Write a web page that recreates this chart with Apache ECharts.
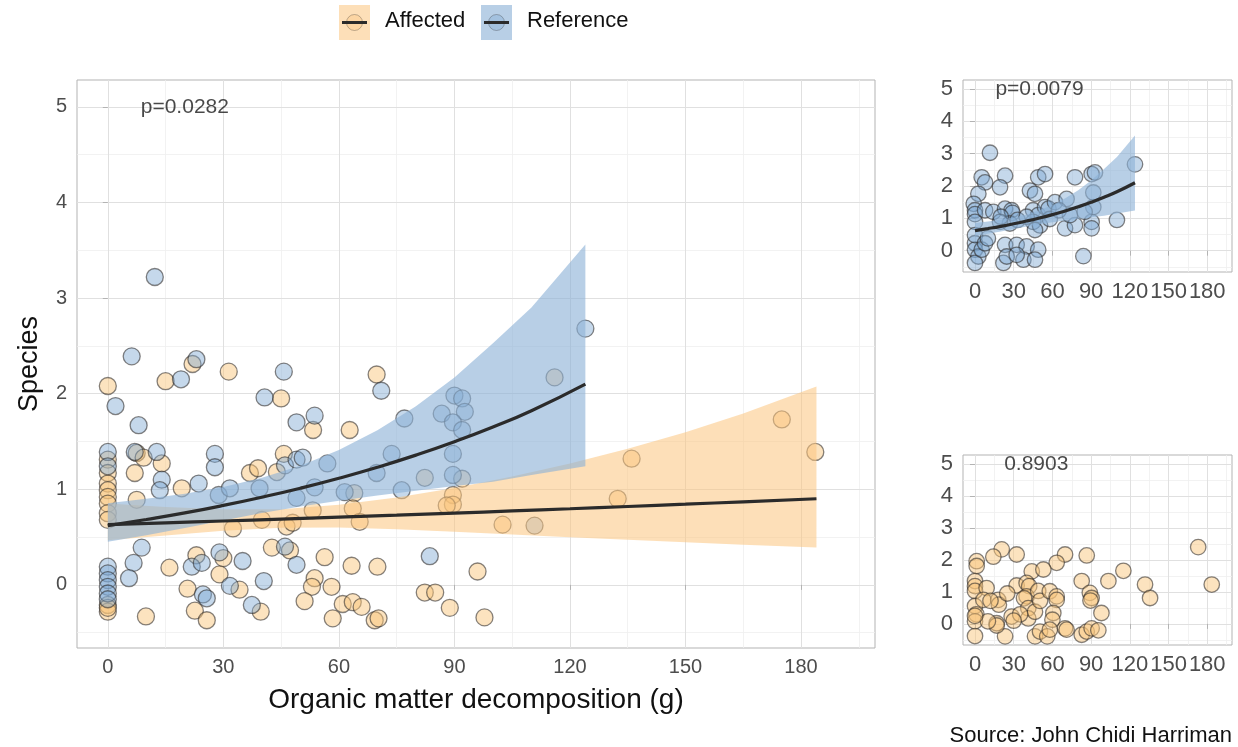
<!DOCTYPE html>
<html>
<head>
<meta charset="utf-8">
<script src="https://cdn.jsdelivr.net/npm/echarts@6/dist/echarts.min.js"></script>
<style>
  html, body { margin: 0; padding: 0; background: #ffffff; }
  #chart { width: 1238px; height: 747px; }
</style>
</head>
<body>
<div id="chart"></div>
<script>
// ---- tick labels ----
const xTicks = [0, 30, 60, 90, 120, 150, 180];
const xMinorTicks = [15, 45, 75, 105, 135, 165, 195];
const yTicks = [0, 1, 2, 3, 4, 5];
const yMinorTicks = [-0.5, 0.5, 1.5, 2.5, 3.5, 4.5];

// ---- main panel observations [decomposition g, species (jittered)] ----
const mainAffected = [
  [0, 2.08], [0, 1.31], [0, 1.17], [0, 1.06], [0, 0.99], [0, 0.92], [0, 0.85], [0, 0.75], [0, 0.68],
  [0, -0.21], [0, -0.28], [0, -0.24],
  [15, 2.13], [22, 2.31], [31.4, 2.23], [45, 1.95], [53.3, 1.62], [62.8, 1.62], [69.8, 2.2],
  [7, 1.17], [7.5, 1.38], [9.3, 1.33], [14, 1.27], [19.2, 1.01], [7.5, 0.89], [36.9, 1.17], [39, 1.22],
  [43.9, 1.18], [45.7, 1.37], [32.5, 0.59], [40, 0.68], [46.4, 0.61], [48, 0.65], [53.2, 0.78], [64, 0.96],
  [63.6, 0.80], [65.4, 0.66], [82.3, 1.12], [92, 1.11], [89.6, 0.94], [89.6, 0.84], [88, 0.83], [116, 2.17],
  [102.5, 0.63], [132.4, 0.90], [136, 1.32], [175, 1.73], [183.7, 1.39],
  [9.9, -0.33], [16, 0.18], [23, 0.31], [30, 0.28], [29, 0.11], [20.7, -0.04], [34.2, -0.05], [22.6, -0.27],
  [25.7, -0.37], [39.7, -0.28], [42.6, 0.39], [47.3, 0.36], [56.3, 0.29], [63.3, 0.20], [70, 0.19], [53.7, 0.07],
  [53, -0.02], [58.1, -0.02], [51.1, -0.17], [61, -0.2], [63.6, -0.18], [65.9, -0.23], [58.4, -0.35],
  [69.3, -0.37], [70.3, -0.35], [82.3, -0.08], [85, -0.08], [88.8, -0.24], [96, 0.14], [97.8, -0.34]
];
const mainReference = [
  [0, 1.39], [0, 1.24], [0, 0.19], [0, 0.12], [0, 0.05], [0, -0.02], [0, -0.09], [0, -0.15],
  [12.2, 3.22], [6.2, 2.39], [23, 2.36], [19, 2.15], [45.7, 2.23], [2, 1.87], [8, 1.67], [40.7, 1.96],
  [49, 1.70], [53.7, 1.77], [71, 2.03], [77, 1.74], [86.7, 1.79], [90, 1.98], [92, 1.95], [92.7, 1.81],
  [89.6, 1.70], [92, 1.62], [124, 2.68],
  [7, 1.39], [12.7, 1.39], [14, 1.10], [13.5, 0.99], [23.6, 1.06], [27.8, 1.37], [27.8, 1.23], [28.8, 0.94],
  [31.7, 1.01], [39.4, 1.01], [46, 1.25], [49, 1.31], [50.6, 1.33], [57, 1.27], [49, 0.91], [53.7, 1.02],
  [61.5, 0.97], [69.8, 1.17], [73.7, 1.37], [89.6, 1.37], [89.6, 1.15], [76.3, 0.99], [110.8, 0.62],
  [8.8, 0.39], [6.7, 0.23], [5.5, 0.07], [21.8, 0.19], [24.4, 0.23], [29, 0.34], [35, 0.25], [24.7, -0.10],
  [25.7, -0.14], [31.7, -0.01], [40.5, 0.04], [37.4, -0.21], [46, 0.40], [49, 0.21], [83.6, 0.30]
];

// ---- small panels (separately jittered) ----
const smallReference = [
  [11.6, 3.03], [5.2, 2.27], [7.8, 2.11], [23.3, 2.32], [19.4, 1.96], [49, 2.27], [54.3, 2.37], [42.6, 1.86],
  [46.5, 1.76], [77.5, 2.27], [90.4, 2.37], [93, 2.42], [124, 2.67], [2.6, 1.76], [-1, 1.45], [0, 1.25],
  [0, 1.13], [0, 0.89], [7.8, 1.25], [14.2, 1.2], [23.3, 1.30], [28.4, 1.25], [29, 1.17], [27, 0.84],
  [19.4, 0.89], [45, 1.25], [49, 1.1], [45, 0.89], [50.4, 0.78], [46.5, 0.64], [54.3, 1.35], [57, 1.3],
  [62, 1.5], [71, 1.6], [69.8, 0.69], [77.5, 0.79], [73.6, 1.1], [90.4, 0.89], [90.4, 0.69], [91.7, 1.35],
  [91.7, 1.80], [110, 0.95], [0, 0.23], [0, 0.03], [2.6, -0.18], [0, -0.38], [0, 0.48], [5.2, 0.03],
  [7.8, 0.23], [10, 0.38], [23.3, 0.18], [32.3, 0.18], [40, 0.13], [49, 0.03], [22, -0.38], [24.6, -0.18],
  [37.5, -0.28], [46.5, -0.28], [32.3, -0.13], [84, -0.17], [20, 1.05], [33, 0.95], [40, 1.05], [58, 0.98],
  [65, 1.25], [85, 1.2]
];
const smallAffected = [
  [20.7, 2.33], [14.2, 2.10], [32.3, 2.17], [69.8, 2.17], [63.3, 1.91], [86.6, 2.14], [1.3, 1.96], [1.3, 1.81],
  [44, 1.64], [53, 1.70], [115, 1.66], [173, 2.40], [183.5, 1.23], [131.8, 1.23], [135.7, 0.81], [103.4, 1.34],
  [82.7, 1.34], [89, 0.97], [90.4, 0.81], [89.5, 0.73], [98, 0.34], [0, 1.34], [0, 1.18], [0, 1.03],
  [0, 0.56], [1, 0.3], [0, 0.08], [0, -0.38], [9, 1.12], [6.5, 0.75], [18, 0.75], [18.5, 0.6], [16.8, 0.02],
  [23.3, -0.39], [28.4, 0.23], [32.3, 1.2], [40, 1.28], [42, 1.18], [40, 0.86], [38, 0.8], [41.3, 0.49],
  [41.3, 0.17], [46.5, 0.38], [49, 1.03], [50.4, 0.72], [58, 1.02], [63.3, 0.86], [63.3, 0.75], [60.7, 0.34],
  [60, 0.13], [46.5, -0.39], [50.4, -0.24], [56, -0.39], [58, -0.18], [69.8, -0.14], [71, -0.18], [82.7, -0.34],
  [86.6, -0.24], [90.4, -0.14], [95.6, -0.2], [16.8, -0.05], [10, 0.08], [0, 0.25], [25, 0.95], [12, 0.72],
  [35, 0.3], [30, 0.1]
];

// ---- fitted trends with confidence bands ----
const refFitX = [0, 10, 20, 30, 40, 50, 60, 70, 80, 90, 100, 110, 124];
const refFit = [0.62, 0.684, 0.753, 0.831, 0.917, 1.011, 1.115, 1.23, 1.357, 1.497, 1.651, 1.821, 2.1];
const refLower = [0.451, 0.52, 0.595, 0.673, 0.751, 0.819, 0.88, 0.935, 0.985, 1.033, 1.079, 1.15, 1.24];
const refUpper = [0.853, 0.9, 0.954, 1.025, 1.12, 1.247, 1.411, 1.618, 1.869, 2.169, 2.526, 2.9, 3.56];

const affFitX = [0, 15, 30, 45, 60, 75, 90, 105, 120, 135, 150, 165, 184];
const affFit = [0.63, 0.649, 0.668, 0.688, 0.708, 0.729, 0.751, 0.773, 0.796, 0.82, 0.844, 0.869, 0.901];
const affLower = [0.467, 0.517, 0.565, 0.597, 0.599, 0.581, 0.556, 0.527, 0.499, 0.472, 0.446, 0.421, 0.391];
const affUpper = [0.85, 0.814, 0.79, 0.792, 0.837, 0.915, 1.014, 1.133, 1.269, 1.424, 1.597, 1.793, 2.076];

// ---- styling ----
const FONT = "'Liberation Sans', Arial, Helvetica, sans-serif";
const AFF_POINT = 'rgba(248,196,122,0.6)';
const REF_POINT = 'rgba(122,166,210,0.55)';
const POINT_EDGE = 'rgba(45,42,40,0.72)';
const AFF_BAND = 'rgba(252,196,125,0.55)';
const REF_BAND = 'rgba(140,178,215,0.62)';
const LINE_COL = '#2b2b2b';
const TICK_TEXT = '#4d4d4d';

const majorGrid = { color: '#e0e0e0', width: 1, type: 'solid' };
const minorGrid = { color: '#efefef', width: 0.8, type: 'solid' };

function gridMarks() {
  const d = [];
  xMinorTicks.forEach(v => d.push({ xAxis: v, lineStyle: minorGrid }));
  yMinorTicks.forEach(v => d.push({ yAxis: v, lineStyle: minorGrid }));
  xTicks.forEach(v => d.push({ xAxis: v, lineStyle: majorGrid }));
  yTicks.forEach(v => d.push({ yAxis: v, lineStyle: majorGrid }));
  return d;
}

function gridSeries(idx) {
  return {
    type: 'line', xAxisIndex: idx, yAxisIndex: idx, data: [], z: 0, silent: true,
    markLine: { silent: true, symbol: ['none', 'none'], label: { show: false }, animation: false, z: 0, data: gridMarks() }
  };
}

function xAxisCfg(idx, min, max, fontSize, extra) {
  return Object.assign({
    type: 'value', gridIndex: idx, min: min, max: max,
    axisLine: { show: false },
    splitLine: { show: false },
    axisTick: { show: true, customValues: xTicks, length: 5, lineStyle: { color: '#b3b3b3', width: 1 } },
    axisLabel: { customValues: xTicks, fontSize: fontSize, color: TICK_TEXT, fontFamily: FONT, margin: 9 }
  }, extra || {});
}

function yAxisCfg(idx, fontSize, extra) {
  return Object.assign({
    type: 'value', gridIndex: idx, min: -0.66, max: 5.28,
    axisLine: { show: false },
    splitLine: { show: false },
    axisTick: { show: true, customValues: yTicks, length: 5, lineStyle: { color: '#b3b3b3', width: 1 } },
    axisLabel: { customValues: yTicks, fontSize: fontSize, color: TICK_TEXT, fontFamily: FONT, margin: 10 }
  }, extra || {});
}

function pointSeries(idx, data, fill, size) {
  return {
    type: 'scatter', xAxisIndex: idx, yAxisIndex: idx, data: data, z: 2,
    symbol: 'circle', symbolSize: size,
    itemStyle: { color: fill, borderColor: POINT_EDGE, borderWidth: 1.3 }
  };
}

function bandSeries(idx, xs, lo, hi, fill) {
  return {
    type: 'custom', xAxisIndex: idx, yAxisIndex: idx, z: 3, silent: true,
    data: [[xs[0], lo[0]]],
    renderItem: function (params, api) {
      const pts = [];
      for (let i = 0; i < xs.length; i++) pts.push(api.coord([xs[i], hi[i]]));
      for (let i = xs.length - 1; i >= 0; i--) pts.push(api.coord([xs[i], lo[i]]));
      return { type: 'polygon', shape: { points: pts }, style: { fill: fill, stroke: null } };
    }
  };
}

function fitSeries(idx, xs, ys) {
  return {
    type: 'line', xAxisIndex: idx, yAxisIndex: idx, z: 4, silent: true,
    data: xs.map((x, i) => [x, ys[i]]), smooth: true, showSymbol: false,
    lineStyle: { color: LINE_COL, width: 3.2 }
  };
}

function noteSeries(idx, x, y, text, size) {
  return {
    type: 'scatter', xAxisIndex: idx, yAxisIndex: idx, z: 6, silent: true,
    data: [[x, y]], symbolSize: 0,
    label: { show: true, position: 'inside', formatter: text, fontSize: size, color: '#1a1a1a', fontFamily: FONT }
  };
}

function legendKey(x, fill, pointFill) {
  return {
    type: 'group', left: x, top: 5,
    children: [
      { type: 'rect', shape: { x: 0, y: 0, width: 31, height: 35 }, style: { fill: fill } },
      { type: 'circle', shape: { cx: 15.5, cy: 17.5, r: 8 }, style: { fill: pointFill, stroke: 'rgba(45,42,40,0.3)', lineWidth: 1 } },
      { type: 'line', shape: { x1: 3, y1: 17.5, x2: 28, y2: 17.5 }, style: { stroke: LINE_COL, lineWidth: 3 } }
    ]
  };
}

const chart = echarts.init(document.getElementById('chart'), null, { renderer: 'canvas' });

chart.setOption({
  animation: false,
  backgroundColor: '#ffffff',
  textStyle: { fontFamily: FONT },
  grid: [
    { left: 77, top: 80, width: 798, height: 568, show: true, backgroundColor: '#ffffff', borderColor: '#b3b3b3', borderWidth: 1 },
    { left: 963, top: 80, width: 269, height: 192, show: true, backgroundColor: '#ffffff', borderColor: '#b3b3b3', borderWidth: 1 },
    { left: 963, top: 455, width: 269, height: 190, show: true, backgroundColor: '#ffffff', borderColor: '#b3b3b3', borderWidth: 1 }
  ],
  xAxis: [
    xAxisCfg(0, -8, 199.2, 20, {
      name: 'Organic matter decomposition (g)', nameLocation: 'middle', nameGap: 38,
      nameTextStyle: { fontSize: 28, color: '#111111', fontFamily: FONT }
    }),
    xAxisCfg(1, -9.3, 199.2, 22),
    xAxisCfg(2, -9.3, 199.2, 22)
  ],
  yAxis: [
    yAxisCfg(0, 20, {
      name: 'Species', nameLocation: 'middle', nameGap: 34, nameRotate: 90,
      nameTextStyle: { fontSize: 27, color: '#111111', fontFamily: FONT }
    }),
    yAxisCfg(1, 22),
    yAxisCfg(2, 22)
  ],
  series: [
    gridSeries(0), gridSeries(1), gridSeries(2),
    // main panel
    pointSeries(0, mainAffected, AFF_POINT, 17),
    pointSeries(0, mainReference, REF_POINT, 17),
    bandSeries(0, affFitX, affLower, affUpper, AFF_BAND),
    bandSeries(0, refFitX, refLower, refUpper, REF_BAND),
    fitSeries(0, affFitX, affFit),
    fitSeries(0, refFitX, refFit),
    noteSeries(0, 20, 5, 'p=0.0282', 21),
    // reference panel
    pointSeries(1, smallReference, REF_POINT, 15.5),
    bandSeries(1, refFitX, refLower, refUpper, REF_BAND),
    fitSeries(1, refFitX, refFit),
    noteSeries(1, 50, 5, 'p=0.0079', 21),
    // affected panel
    pointSeries(2, smallAffected, AFF_POINT, 15.5),
    noteSeries(2, 47.5, 5, '0.8903', 21)
  ],
  graphic: [
    legendKey(339, 'rgba(252,196,125,0.55)', 'rgba(248,196,122,0.35)'),
    { type: 'text', left: 385, top: 10, style: { text: 'Affected', fontSize: 22, fill: '#111111', fontFamily: FONT } },
    legendKey(481, 'rgba(140,178,215,0.62)', 'rgba(122,166,210,0.35)'),
    { type: 'text', left: 527, top: 10, style: { text: 'Reference', fontSize: 22, fill: '#111111', fontFamily: FONT } },
    { type: 'text', right: 6, top: 725, style: { text: 'Source: John Chidi Harriman', fontSize: 22, fill: '#111111', fontFamily: FONT } }
  ]
});
</script>
</body>
</html>
